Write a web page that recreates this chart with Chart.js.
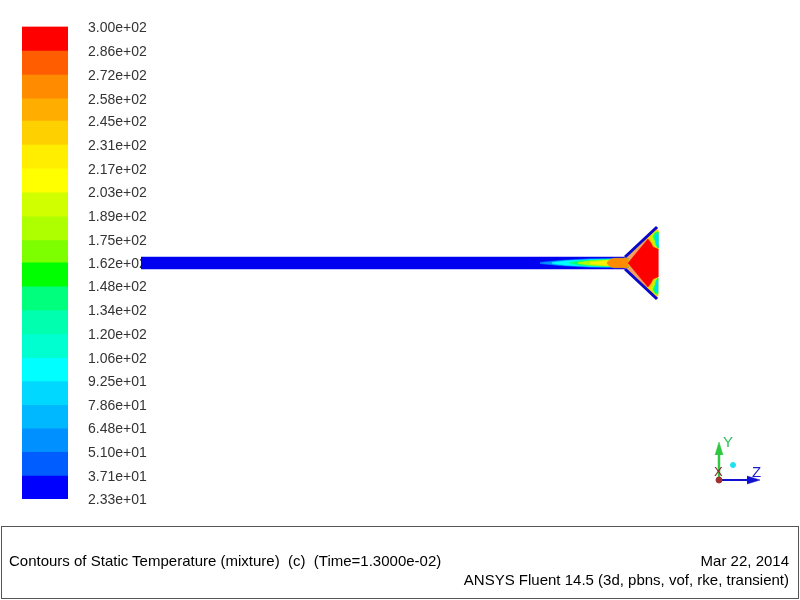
<!DOCTYPE html>
<html>
<head>
<meta charset="utf-8">
<title>Contours of Static Temperature</title>
<script src="https://cdn.jsdelivr.net/npm/chart.js@4"></script>
<style>
  html, body { margin: 0; padding: 0; background: #fff; width: 800px; height: 600px; overflow: hidden; }
  canvas { position: absolute; left: 0; top: 0; }
  .txt { position: absolute; font-family: "Liberation Sans", Arial, sans-serif; white-space: pre; line-height: 1; }
  #caja { position: absolute; left: 1px; top: 526px; width: 796px; height: 71px; border: 1px solid #555; }
</style>
</head>
<body>
<canvas id="barra" width="800" height="600"></canvas>
<canvas id="campo" width="800" height="600"></canvas>
<div id="caja"></div>
<div class="txt" style="left:9px;top:553px;font-size:15px;color:#000">Contours of Static Temperature (mixture)  (c)  (Time=1.3000e-02)</div>
<div class="txt" style="right:11px;top:553px;font-size:15px;color:#000">Mar 22, 2014</div>
<div class="txt" style="right:11px;top:572px;font-size:15px;color:#000">ANSYS Fluent 14.5 (3d, pbns, vof, rke, transient)</div>
<div class="txt" style="left:723px;top:434px;font-size:15px;color:#2fc05a">Y</div>
<div class="txt" style="left:752px;top:464px;font-size:15px;color:#1a1ad0">Z</div>
<div class="txt" style="left:714px;top:465px;font-size:13px;color:#8a2030">X</div>
<script>
// niveles de la barra de colores (K)
const niveles = [300, 286, 272, 258, 245, 231, 217, 203, 189, 175, 162, 148, 134, 120, 106, 92.5, 78.6, 64.8, 51.0, 37.1, 23.3];
const coresBanda = [
  "#ff0000", "#ff5d00", "#ff8b00", "#ffae00", "#ffd000", "#ffee00", "#ffff00", "#d0ff00", "#aeff00", "#7dff00",
  "#00ff00", "#00ff7d", "#00ffae", "#00ffd0", "#00ffff", "#00d8ff", "#00b8ff", "#0090ff", "#005dff", "#0000ff"
];

// geometria do bocal, nas coordenadas do desenho
const tuboX = [141, 627, 627, 141];
const tuboY = [257, 257, 269, 269];
const paredeSupX = [625, 657];
const paredeSupY = [257, 227];
const paredeInfX = [625, 657];
const paredeInfY = [269, 299];

const coneX = [624, 625, 657, 657, 625];
const coneY = [263, 257, 227, 299, 269];
const quenteX = [628, 648, 651, 653, 658, 658, 653, 651, 648, 628];
const quenteY = [263, 239, 243, 247, 249, 277, 279, 283, 287, 263];

// contornos do canto superior e inferior da saida
const cantoSupX = [
  [647, 655, 658, 658, 653, 650],
  [651, 655, 658, 658, 655, 653],
  [653, 655, 658, 658, 656, 655],
  [655, 658, 658, 656]
];
const cantoSupY = [
  [238, 231, 230, 250, 248, 243],
  [237, 232, 231, 249, 246, 242],
  [237, 233, 232, 248, 245, 241],
  [235, 234, 248, 243]
];
const cantoCores = ["#ffd000", "#aeff00", "#00ff7d", "#00d8ff"];

// jato no centro do tubo: x e meia altura de cada contorno
const jatoX = [
  [540, 560, 590, 628],
  [552, 566, 592, 628],
  [570, 580, 600, 628],
  [578, 590, 606, 628],
  [590, 600, 610, 628],
  [607, 610, 614, 628]
];
const jatoMeia = [
  [0.6, 2.6, 4.2, 4.6],
  [0.6, 2.2, 3.4, 4.2],
  [0.5, 2.2, 3.2, 4.0],
  [0.5, 2.2, 3.0, 3.8],
  [0.5, 1.8, 2.6, 3.6],
  [0.5, 3.6, 4.8, 4.8]
];
const jatoCores = ["#0090ff", "#00ffff", "#00ff7d", "#aeff00", "#ffee00", "#ff8b00"];
const centroY = 263;

// triedro
const eixoYX = [719, 719];
const eixoYY = [480, 450];
const setaYX = [715, 719, 723];
const setaYY = [455, 442, 455];
const eixoZX = [719, 750];
const eixoZY = [480, 480];
const setaZX = [747, 760, 747];
const setaZY = [476, 480, 484];
const origemX = [719];
const origemY = [480];
const pontoX = [733];
const pontoY = [465];

function pontos(xs, ys) {
  return xs.map(function (x, i) {
    return { x: x, y: ys[i] };
  });
}

function poligono(xs, ys, cor) {
  return {
    data: pontos(xs, ys),
    showLine: true,
    fill: "shape",
    backgroundColor: cor,
    borderColor: cor,
    borderWidth: 0.5,
    pointRadius: 0
  };
}

function linha(xs, ys, cor, largura) {
  return {
    data: pontos(xs, ys),
    showLine: true,
    fill: false,
    borderColor: cor,
    borderWidth: largura,
    pointRadius: 0
  };
}

function marca(xs, ys, cor, raio) {
  return {
    data: pontos(xs, ys),
    showLine: false,
    backgroundColor: cor,
    borderColor: cor,
    pointRadius: raio
  };
}

function jato(i) {
  const xs = jatoX[i];
  const meia = jatoMeia[i];
  const cimaY = meia.map(function (m) { return centroY - m; });
  const baixoY = meia.map(function (m) { return centroY + m; }).reverse();
  return poligono(xs.concat(xs.slice().reverse()), cimaY.concat(baixoY), jatoCores[i]);
}

function espelho(ys) {
  return ys.map(function (y) { return 2 * centroY - y; });
}

// barra de colores: cada banda e uma barra flutuante entre dois niveis
new Chart(document.getElementById("barra"), {
  type: "bar",
  data: {
    labels: ["T"],
    datasets: coresBanda.map(function (cor, i) {
      return {
        data: [[niveles[i + 1], niveles[i]]],
        backgroundColor: cor,
        borderWidth: 0,
        barPercentage: 1,
        categoryPercentage: 1
      };
    })
  },
  options: {
    responsive: false,
    animation: false,
    layout: { autoPadding: false, padding: { left: 22, top: 26.5, bottom: 101, right: 0 } },
    plugins: { legend: { display: false }, tooltip: { enabled: false } },
    scales: {
      x: { display: false, stacked: true },
      y: {
        position: "right",
        min: 23.3,
        max: 300,
        grid: { display: false },
        border: { display: false },
        afterFit: function (scale) { scale.width = 732; },
        afterBuildTicks: function (scale) {
          scale.ticks = niveles.map(function (v) { return { value: v }; });
        },
        ticks: {
          autoSkip: false,
          padding: 12,
          labelOffset: 1.5,
          color: "#333",
          font: { family: "'Liberation Sans', Arial, sans-serif", size: 14 },
          callback: function (v) {
            return v.toExponential(2).replace(/e\+(\d)$/, "e+0$1");
          }
        }
      }
    }
  }
});

// desenho do bocal: o primeiro da lista fica por baixo
const camadas = [
  poligono(tuboX, tuboY, "#0000f0"),
  poligono(coneX, coneY, "#f0a060")
];
jatoX.forEach(function (_, i) {
  camadas.push(jato(i));
});
cantoCores.forEach(function (cor, i) {
  camadas.push(poligono(cantoSupX[i], cantoSupY[i], cor));
  camadas.push(poligono(cantoSupX[i], espelho(cantoSupY[i]), cor));
});
camadas.push(poligono(quenteX, quenteY, "#ff0000"));
camadas.push(linha(paredeSupX, paredeSupY, "#0808c8", 3));
camadas.push(linha(paredeInfX, paredeInfY, "#0808c8", 3));
camadas.push(linha(eixoYX, eixoYY, "#30c840", 2.5));
camadas.push(poligono(setaYX, setaYY, "#30c840"));
camadas.push(linha(eixoZX, eixoZY, "#1010d0", 2));
camadas.push(poligono(setaZX, setaZY, "#1010d0"));
camadas.push(marca(origemX, origemY, "#a03030", 3));
camadas.push(marca(pontoX, pontoY, "#20e0f0", 2.5));

new Chart(document.getElementById("campo"), {
  type: "scatter",
  data: { datasets: camadas.reverse() },
  options: {
    responsive: false,
    animation: false,
    layout: { autoPadding: false, padding: 0 },
    plugins: { legend: { display: false }, tooltip: { enabled: false } },
    scales: {
      x: { display: false, min: 0, max: 800 },
      y: { display: false, min: 0, max: 600, reverse: true }
    }
  }
});
</script>
</body>
</html>
